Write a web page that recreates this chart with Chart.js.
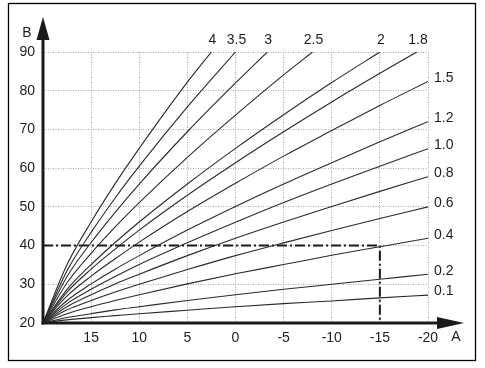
<!DOCTYPE html>
<html>
<head>
<meta charset="utf-8">
<script src="https://cdn.jsdelivr.net/npm/chart.js@4/dist/chart.umd.min.js"></script>
<style>
  html, body { margin: 0; padding: 0; background: #ffffff; }
  #wrap { width: 485px; height: 368px; }
</style>
</head>
<body>
<div id="wrap"><canvas id="c" width="485" height="368"></canvas></div>
<script>
// ---- data ----
const outdoor = [20, 17.5, 15, 12.5, 10, 5, 0, -5, -10, -15, -20];
const xTickValues = [20, 15, 10, 5, 0, -5, -10, -15, -20];
const yTickValues = [20, 30, 40, 50, 60, 70, 80, 90];
const axisLabelX = 'A';
const axisLabelY = 'B';

// curves ending on the right edge (x = -20)
const c01 = [20, 20.8, 21.4, 21.9, 22.4, 23.3, 24.2, 25.0, 25.7, 26.5, 27.2];
const c02 = [20, 21.4, 22.4, 23.4, 24.2, 25.8, 27.3, 28.7, 30.0, 31.3, 32.6];
const c04 = [20, 22.4, 24.2, 25.8, 27.3, 30.1, 32.7, 35.1, 37.5, 39.7, 41.9];
const c06 = [20, 23.4, 25.8, 28.0, 30.0, 33.8, 37.4, 40.7, 43.9, 47.0, 50.0];
const c08 = [20, 24.2, 27.3, 30.1, 32.6, 37.4, 41.9, 46.1, 50.1, 54.0, 57.8];
const c10 = [20, 25.0, 28.7, 32.0, 35.1, 40.7, 46.0, 51.1, 55.9, 60.5, 65.0];
const c12 = [20, 25.8, 30.1, 33.9, 37.4, 44.0, 50.1, 55.9, 61.4, 66.8, 72.0];
const c15 = [20, 27.0, 32.1, 36.6, 40.9, 48.8, 56.1, 63.1, 69.7, 76.2, 82.4];
// curves ending on the top edge (y = 90)
const c18 = [20, 28.0, 33.9, 39.1, 44.0, 53.0, 61.4, 69.4, 77.1, 84.5];
const c20 = [20, 28.7, 35.1, 40.8, 46.1, 55.9, 65.1, 73.8, 82.1];
const c25 = [20, 30.4, 38.0, 44.8, 51.1, 62.8, 73.7, 84.1];
const c30 = [20, 32.0, 40.8, 48.6, 55.9, 69.4, 82.0];
const c35 = [20, 33.5, 43.4, 52.3, 60.5, 75.8];
const c40 = [20, 35.1, 46.1, 56.0, 65.1, 82.2];
const topEndX = [-18.85, -15, -8, -3.3, 0, 2.5];   // x where curves 1.8 .. 4 reach 90
const topEndY = 90;

const rightCurves = [c01, c02, c04, c06, c08, c10, c12, c15];
const rightLabels = ['0.1', '0.2', '0.4', '0.6', '0.8', '1.0', '1.2', '1.5'];
const topCurves = [c18, c20, c25, c30, c35, c40];
const topLabels = ['1.8', '2', '2.5', '3', '3.5', '4'];

// design point (dash-dot guide)
const guideX = [20, -15, -15];
const guideY = [40, 40, 20];

// ---- build datasets ----
const datasets = [];
rightCurves.forEach((vals, i) => {
  datasets.push({
    label: rightLabels[i], kind: 'right',
    data: vals.map((v, k) => ({ x: outdoor[k], y: v }))
  });
});
topCurves.forEach((vals, i) => {
  const pts = vals.map((v, k) => ({ x: outdoor[k], y: v }));
  pts.push({ x: topEndX[i], y: topEndY });
  datasets.push({ label: topLabels[i], kind: 'top', data: pts });
});
datasets.forEach(d => {
  d.borderColor = '#2a2a2a';
  d.borderWidth = 1.1;
  d.pointRadius = 0;
  d.fill = false;
  d.cubicInterpolationMode = 'monotone';
});
datasets.push({
  label: 'guide', kind: 'guide',
  data: guideX.map((x, k) => ({ x: x, y: guideY[k] })),
  borderColor: '#1a1a1a', borderWidth: 2, pointRadius: 0, fill: false,
  borderDash: [10, 3, 2, 3], tension: 0
});

const FONT = '"Liberation Sans", Arial, Helvetica, sans-serif';
const TEXT = '#1e1e1e';

const decor = {
  id: 'decor',
  afterDatasetsDraw(chart) {
    const ctx = chart.ctx;
    const xs = chart.scales.x, ys = chart.scales.y;
    const ox = xs.getPixelForValue(20), oy = ys.getPixelForValue(20);
    ctx.save();
    // outer frame
    ctx.strokeStyle = '#000';
    ctx.lineWidth = 1.3;
    ctx.strokeRect(8.5, 3.5, 467, 357);
    // axes
    ctx.fillStyle = '#1a1a1a';
    ctx.strokeStyle = '#1a1a1a';
    ctx.lineWidth = 3;
    ctx.beginPath();
    ctx.moveTo(ox, oy + 1.5);
    ctx.lineTo(ox, 38);
    ctx.stroke();
    ctx.beginPath();
    ctx.moveTo(ox - 1.5, oy);
    ctx.lineTo(440, oy);
    ctx.stroke();
    // arrowheads
    ctx.beginPath();
    ctx.moveTo(ox - 6.5, 40); ctx.lineTo(ox + 6.5, 40); ctx.lineTo(ox, 17); ctx.closePath(); ctx.fill();
    ctx.beginPath();
    ctx.moveTo(437, oy - 6); ctx.lineTo(437, oy + 6); ctx.lineTo(464, oy); ctx.closePath(); ctx.fill();
    // axis names
    ctx.fillStyle = TEXT;
    ctx.font = '14px ' + FONT;
    ctx.textAlign = 'center';
    ctx.textBaseline = 'middle';
    ctx.fillText(axisLabelY, 27, 33);
    ctx.fillText(axisLabelX, 456, 337);
    // curve labels
    chart.data.datasets.forEach((d, i) => {
      if (d.kind === 'guide') return;
      const meta = chart.getDatasetMeta(i);
      const last = meta.data[meta.data.length - 1];
      if (d.kind === 'top') {
        ctx.textAlign = 'center';
        ctx.fillText(d.label, last.x + 1, last.y - 12);
      } else {
        ctx.textAlign = 'left';
        ctx.fillText(d.label, last.x + 6, last.y - 3.5);
      }
    });
    ctx.restore();
  }
};

new Chart(document.getElementById('c'), {
  type: 'line',
  data: { datasets: datasets },
  options: {
    responsive: false,
    animation: false,
    parsing: true,
    layout: { padding: { left: 0, right: 57, top: 52, bottom: 15 } },
    plugins: { legend: { display: false }, tooltip: { enabled: false } },
    scales: {
      x: {
        type: 'linear', reverse: true, min: -20, max: 20,
        afterFit(scale) { scale.height = 30; },
        afterBuildTicks(scale) { scale.ticks = xTickValues.map(v => ({ value: v })); },
        ticks: {
          padding: 7, maxRotation: 0, autoSkip: false,
          color: TEXT, font: { family: FONT, size: 14 },
          callback: (v) => (v === 20 ? '' : String(v))
        },
        grid: { color: '#a8a8a8', lineWidth: 1, drawTicks: false },
        border: { display: false, dash: [1, 1.5] }
      },
      y: {
        type: 'linear', min: 20, max: 90,
        afterFit(scale) { scale.width = 43; },
        afterBuildTicks(scale) { scale.ticks = yTickValues.map(v => ({ value: v })); },
        ticks: {
          padding: 8, autoSkip: false,
          color: TEXT, font: { family: FONT, size: 14 }
        },
        grid: { color: '#a8a8a8', lineWidth: 1, drawTicks: false },
        border: { display: false, dash: [1, 1.5] }
      }
    }
  },
  plugins: [decor]
});
</script>
</body>
</html>
